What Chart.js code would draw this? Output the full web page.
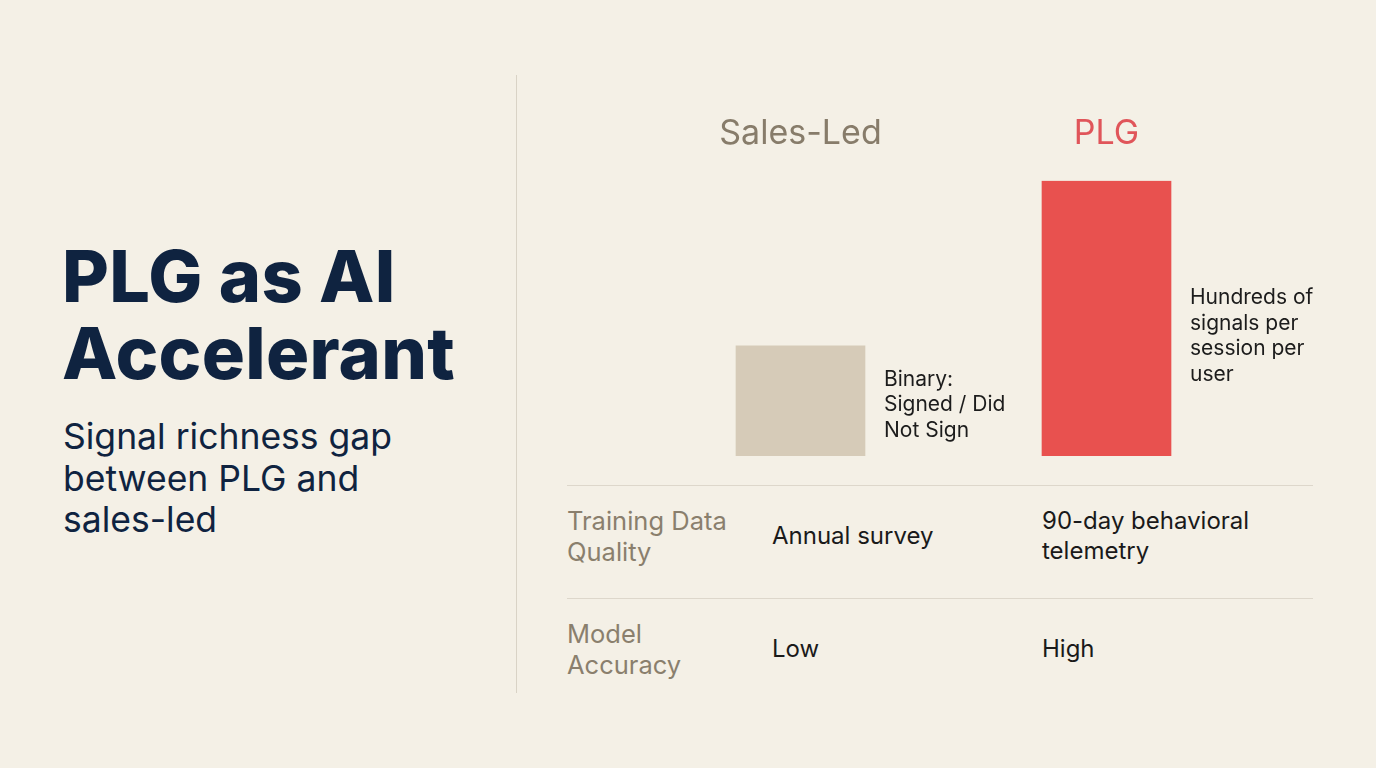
<!DOCTYPE html>
<html>
<head>
<meta charset="utf-8">
<script src="https://cdn.jsdelivr.net/npm/chart.js@4.4.1/dist/chart.umd.min.js"></script>
<style>
  html, body { margin: 0; padding: 0; }
  body {
    width: 1376px; height: 768px; overflow: hidden; position: relative;
    background: #f4f0e6; font-family: Inter, "Noto Sans", sans-serif;
  }
  #title {
    position: absolute; left: 62px; top: 237px; margin: 0;
    font-size: 72px; font-weight: 800; line-height: 77px; color: #0f2340;
    letter-spacing: 0.3px;
  }
  #subtitle {
    position: absolute; left: 63px; top: 416px; margin: 0;
    font-size: 35.5px; font-weight: 400; line-height: 41.5px; color: #0f2340;
  }
  #divider {
    position: absolute; left: 516px; top: 75px; width: 1px; height: 618px;
    background: #d9d3c6;
  }
  #chart-box { position: absolute; left: 566px; top: 63px; width: 748px; height: 407px; }
  #table { position: absolute; left: 567px; top: 485px; width: 746px; }
  .row { position: relative; height: 112px; border-top: 1.5px solid #ddd7cb; }
  .row div { position: absolute; font-size: 24px; line-height: 30px; color: #1a1a1a; }
  .row .head { left: 0; color: #8a7f6d; font-size: 25.5px; line-height: 31px; }
  .row .c1 { left: 205px; }
  .row .c2 { left: 475px; }
</style>
</head>
<body>
<h1 id="title">PLG as AI<br>Accelerant</h1>
<p id="subtitle">Signal richness gap<br>between PLG and<br>sales-led</p>
<div id="divider"></div>
<div id="chart-box"><canvas id="bars"></canvas></div>
<div id="table"></div>
<script>
// chart data
const categories = ["Sales-Led", "PLG"];
const signalValues = [40, 100];
const barColors = ["#d6cbb8", "#e8514f"];
const labelColors = ["#877c6a", "#e0555a"];
const barNotes = [
  ["Binary:", "Signed / Did", "Not Sign"],
  ["Hundreds of", "signals per", "session per", "user"]
];

// table data
const rowHeads = [["Training Data", "Quality"], ["Model", "Accuracy"]];
const salesLedCells = [["Annual survey"], ["Low"]];
const plgCells = [["90-day behavioral", "telemetry"], ["High"]];

const $ = id => document.getElementById(id);

function buildTable() {
  var html = "";
  var mid = 50;
  for (var i = 0; i < rowHeads.length; i++) {
    var h = rowHeads[i], a = salesLedCells[i], b = plgCells[i];
    html += '<div class="row">' +
      '<div class="head" style="top:' + (mid - h.length * 31 / 2) + 'px">' + h.join("<br>") + '</div>' +
      '<div class="c1" style="top:' + (mid - a.length * 30 / 2) + 'px">' + a.join("<br>") + '</div>' +
      '<div class="c2" style="top:' + (mid - b.length * 30 / 2) + 'px">' + b.join("<br>") + '</div>' +
      '</div>';
  }
  $("table").innerHTML = html;
}
buildTable();

// writes the little notes to the right of each bar
const notesPlugin = {
  id: "barNotes",
  afterDatasetsDraw(chart) {
    var ctx = chart.ctx;
    var meta = chart.getDatasetMeta(0);
    ctx.save();
    ctx.font = "21px Inter, sans-serif";
    ctx.fillStyle = "#1c1c1c";
    ctx.textBaseline = "middle";
    ctx.textAlign = "left";
    meta.data.forEach(function(bar, i) {
      var lines = barNotes[i];
      var x = bar.x + bar.width / 2 + 19;
      var mid = (bar.y + bar.base) / 2 + (i == 1 ? 18 : 4);
      var lh = 25.5;
      var y0 = mid - (lines.length - 1) * lh / 2;
      lines.forEach(function(t, k) { ctx.fillText(t, x, y0 + k * lh); });
    });
    ctx.restore();
  }
};

new Chart($("bars").getContext("2d"), {
  type: "bar",
  data: {
    labels: categories,
    datasets: [{
      data: signalValues,
      backgroundColor: barColors,
      borderWidth: 0,
      barThickness: 129
    }]
  },
  options: {
    responsive: true,
    maintainAspectRatio: false,
    animation: false,
    layout: { padding: { left: 81.5, right: 54.5, top: 23, bottom: 14 } },
    plugins: { legend: { display: false }, tooltip: { enabled: false } },
    scales: {
      x: {
        position: "top",
        grid: { display: false, drawTicks: false },
        border: { display: false },
        ticks: {
          padding: 27,
          color: labelColors,
          font: { family: "Inter", size: 34, weight: 400 }
        }
      },
      y: { display: false, min: 0, max: 100 }
    }
  },
  plugins: [notesPlugin]
});
</script>
</body>
</html>
